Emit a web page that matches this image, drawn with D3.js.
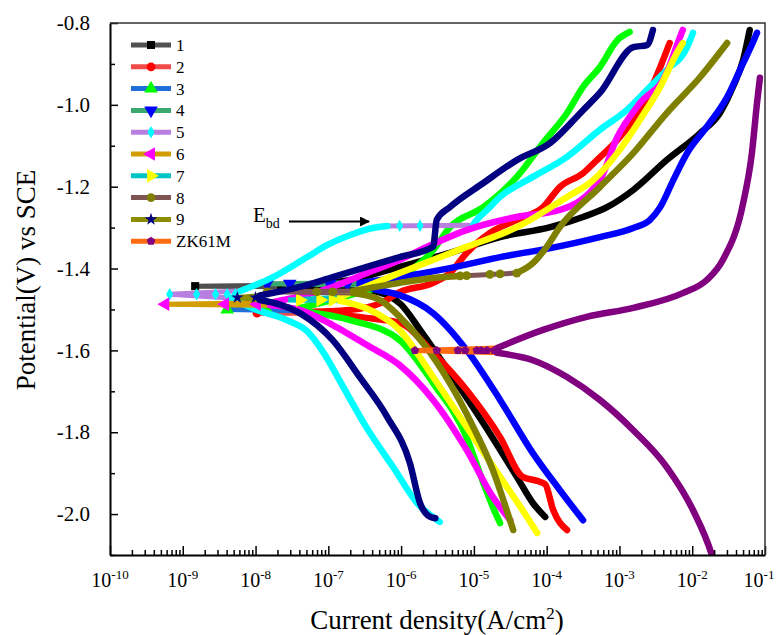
<!DOCTYPE html>
<html>
<head>
<meta charset="utf-8">
<script src="https://cdn.jsdelivr.net/npm/d3@7"></script>
<style>
body { margin:0; background:#fff; }
text { font-family:"Liberation Serif","Times New Roman",serif; fill:#000; }
</style>
</head>
<body>
<svg id="chart" width="776" height="635"></svg>
<script>

// ---- data: [log10(i / A cm-2), E / V vs SCE] ----
var names = ["1","2","3","4","5","6","7","8","9","ZK61M"];
var ecorr  = [-1.443,-1.509,-1.500,-1.437,-1.463,-1.487,-1.477,-1.457,-1.471,-1.600];
var dipLog = [-8.83,-7.98,-8.39,-7.84,-9.18,-9.24,-7.55,-7.87,-8.25,-5.81];
var dipMarks = [
  [-8.83,-7.65],
  [-7.98,-7.16],
  [-8.39,-7.85],
  [-7.84,-7.53,-6.98,-6.74],
  [-9.18,-8.81,-8.55,-8.39,-8.28],
  [-9.24,-8.42,-7.98],
  [-7.39,-7.11,-6.94],
  [-7.84,-7.16,-6.94],
  [-8.25,-8.0],
  [-5.81,-5.51,-5.22,-5.12,-4.96,-4.90,-4.82,-4.72]
];

var cath1 = [[-7.39,-1.445],[-6.7,-1.448],[-6.3,-1.458],[-6.0,-1.488],[-5.74,-1.55],[-5.33,-1.655],[-4.87,-1.778],[-4.41,-1.909],[-4.19,-1.973],[-4.02,-2.007]];
var anod1 = [[-7.39,-1.440],[-6.70,-1.428],[-6.02,-1.396],[-5.33,-1.362],[-4.64,-1.323],[-3.95,-1.299],[-3.50,-1.274],[-3.17,-1.250],[-2.81,-1.208],[-2.35,-1.135],[-1.89,-1.069],[-1.62,-1.020],[-1.44,-0.956],[-1.30,-0.890],[-1.21,-0.817]];

var cath2 = [[-7.39,-1.509],[-6.98,-1.511],[-6.5,-1.520],[-6.02,-1.533],[-5.56,-1.606],[-5.10,-1.697],[-4.64,-1.812],[-4.33,-1.909],[-4.13,-1.919],[-4.02,-1.927],[-3.91,-1.990],[-3.72,-2.039]];
var anod2 = [[-7.39,-1.506],[-6.70,-1.501],[-6.25,-1.482],[-6.02,-1.458],[-5.56,-1.435],[-5.33,-1.411],[-5.10,-1.362],[-4.78,-1.313],[-4.41,-1.281],[-4.05,-1.250],[-3.82,-1.201],[-3.50,-1.167],[-3.31,-1.135],[-3.03,-1.086],[-2.81,-1.037],[-2.62,-0.981],[-2.44,-0.908],[-2.31,-0.849]];

var cath3 = [[-7.40,-1.503],[-6.70,-1.526],[-6.02,-1.575],[-5.56,-1.680],[-5.10,-1.812],[-4.87,-1.924],[-4.68,-2.007],[-4.64,-2.022]];
var anod3 = [[-7.40,-1.497],[-6.70,-1.465],[-6.02,-1.423],[-5.56,-1.355],[-5.33,-1.299],[-4.87,-1.250],[-4.41,-1.176],[-4.05,-1.093],[-3.72,-1.020],[-3.50,-0.956],[-3.27,-0.908],[-3.03,-0.842],[-2.86,-0.822]];

var cath4 = [[-6.57,-1.440],[-6.33,-1.452],[-6.02,-1.465],[-5.56,-1.509],[-5.10,-1.599],[-4.64,-1.721],[-4.19,-1.851],[-3.82,-1.941],[-3.61,-1.990],[-3.50,-2.015]];
var anod4 = [[-6.57,-1.435],[-6.02,-1.421],[-5.33,-1.399],[-4.64,-1.372],[-3.95,-1.350],[-3.27,-1.323],[-2.81,-1.301],[-2.58,-1.281],[-2.44,-1.250],[-2.26,-1.184],[-2.07,-1.118],[-1.80,-1.054],[-1.52,-0.981],[-1.30,-0.898],[-1.17,-0.849],[-1.11,-0.824]];

var cath5 = [[-8.35,-1.472],[-7.98,-1.501],[-7.57,-1.526],[-7.30,-1.552],[-7.05,-1.610],[-6.84,-1.675],[-6.47,-1.790],[-6.11,-1.885],[-5.78,-1.973],[-5.47,-2.019]];
var anod5a = [[-8.21,-1.455],[-7.76,-1.421],[-7.29,-1.372],[-7.02,-1.343],[-6.70,-1.318],[-6.39,-1.301],[-6.19,-1.296]];
var anod5b = [[-5.01,-1.294],[-4.96,-1.281],[-4.82,-1.257],[-4.64,-1.225],[-4.19,-1.176],[-3.72,-1.127],[-3.27,-1.061],[-2.90,-1.013],[-2.58,-0.956],[-2.35,-0.915],[-2.07,-0.859],[-1.99,-0.824]];
var plateau5 = [-6.02,-5.74,-5.01];

var cath6 = [[-7.80,-1.490],[-7.39,-1.501],[-6.94,-1.538],[-6.47,-1.587],[-6.02,-1.636],[-5.56,-1.721],[-5.10,-1.843],[-4.74,-1.958],[-4.50,-2.015]];
var anod6 = [[-7.80,-1.484],[-7.62,-1.477],[-6.94,-1.445],[-6.47,-1.411],[-6.02,-1.379],[-5.74,-1.355],[-5.10,-1.306],[-4.41,-1.274],[-3.82,-1.257],[-3.27,-1.184],[-3.03,-1.079],[-2.72,-0.996],[-2.35,-0.922],[-2.21,-0.854],[-2.13,-0.817]];

var cath7 = [[-6.84,-1.479],[-6.43,-1.501],[-6.02,-1.550],[-5.56,-1.665],[-5.10,-1.787],[-4.64,-1.909],[-4.27,-2.007],[-4.13,-2.046]];
var anod7 = [[-6.84,-1.470],[-6.02,-1.411],[-5.10,-1.347],[-4.41,-1.299],[-3.72,-1.225],[-3.36,-1.184],[-3.03,-1.118],[-2.72,-1.037],[-2.44,-0.956],[-2.21,-0.873],[-2.13,-0.849]];

var cath8 = [[-6.66,-1.460],[-6.29,-1.477],[-6.02,-1.518],[-5.70,-1.582],[-5.33,-1.680],[-5.01,-1.787],[-4.74,-1.892],[-4.55,-1.990],[-4.46,-2.039]];
var anod8a = [[-6.66,-1.455],[-6.02,-1.435],[-5.56,-1.423],[-5.19,-1.418]];
var anod8b = [[-4.41,-1.411],[-4.19,-1.387],[-4.00,-1.347],[-3.82,-1.299],[-3.27,-1.201],[-2.81,-1.118],[-2.35,-1.020],[-1.89,-0.932],[-1.52,-0.849]];
var plateau8 = [-5.19,-5.10,-4.78,-4.64,-4.41];

var cath9 = [[-7.94,-1.477],[-7.39,-1.509],[-6.94,-1.575],[-6.57,-1.665],[-6.19,-1.763],[-5.88,-1.875],[-5.74,-1.973],[-5.60,-2.007],[-5.53,-2.010]];
var anod9 = [[-7.94,-1.466],[-7.39,-1.445],[-6.94,-1.421],[-6.47,-1.396],[-6.02,-1.372],[-5.56,-1.347],[-5.51,-1.281],[-5.33,-1.250],[-4.87,-1.191],[-4.41,-1.135],[-3.95,-1.093],[-3.50,-1.013],[-3.27,-0.971],[-2.81,-0.859],[-2.62,-0.854],[-2.54,-0.817]];

var cath10 = [[-4.68,-1.606],[-4.19,-1.624],[-3.72,-1.665],[-3.27,-1.721],[-2.81,-1.795],[-2.35,-1.885],[-1.99,-1.990],[-1.73,-2.100],[-1.68,-2.13]];
var anod10 = [[-4.68,-1.594],[-4.05,-1.550],[-3.45,-1.518],[-2.81,-1.496],[-2.13,-1.460],[-1.80,-1.428],[-1.58,-1.379],[-1.30,-1.240],[-1.18,-1.118],[-1.11,-0.996],[-1.07,-0.934]];

var cathodic = [cath1,cath2,cath3,cath4,cath5,cath6,cath7,cath8,cath9,cath10];
var anodic = [[anod1],[anod2],[anod3],[anod4],[anod5a,anod5b],[anod6],[anod7],[anod8a,anod8b],[anod9],[anod10]];
var plateauMarks = [[],[],[],[],[plateau5],[],[],[plateau8],[],[]];

var xTicks = [-10,-9,-8,-7,-6,-5,-4,-3,-2,-1];
var yTicks = [-2.0,-1.8,-1.6,-1.4,-1.2,-1.0,-0.8];
var yMinor = [-2.1,-1.9,-1.7,-1.5,-1.3,-1.1,-0.9];

// ---- styles ----
var lineColors = ["#505050","#f04a4a","#1f6fd8","#3aa86f","#b87fe0","#d29d00","#00c4c4","#7e5454","#8c8c00","#ff6b10"];
var markColors = ["#000000","#ff0000","#00ff00","#0000ff","#00ffff","#ff00ff","#ffff00","#808000","#000080","#800080"];
var shapes = ["square","circle","up","down","diamond","left","right","circle","star","pentagon"];

var svg = d3.select("#chart");
var pL = 110, pR = 765, pT = 23, pB = 555;

var x = d3.scaleLog().domain([1e-10, 1e-1]).range([pL, pR]);
var y = d3.scaleLinear().domain([-2.1, -0.8]).range([pB, pT]);

function px(d) { return x(Math.pow(10, d[0])); }
function py(d) { return y(d[1]); }

var smooth = d3.line().x(px).y(py).curve(d3.curveMonotoneX);
var straight = d3.line().x(px).y(py);

function symbolPath(shape, size) {
  if (shape == "pentagon") {
    var r = size / 2, pts = [];
    for (var k = 0; k < 5; k++) {
      var a = -Math.PI / 2 + k * 2 * Math.PI / 5;
      pts.push([r * Math.cos(a), r * Math.sin(a)]);
    }
    return "M" + pts.join("L") + "Z";
  }
  var area = size * size;
  var t = {square: d3.symbolSquare, circle: d3.symbolCircle, up: d3.symbolTriangle,
           down: d3.symbolTriangle, left: d3.symbolTriangle, right: d3.symbolTriangle,
           diamond: d3.symbolDiamond, star: d3.symbolStar}[shape];
  if (shape == "square") area = size * size * 0.8;
  if (shape == "circle") area = size * size * 0.75;
  if (shape == "star") area = size * size * 0.6;
  if (shape == "diamond") area = size * size * 0.55;
  return d3.symbol().type(t).size(area)();
}
var rot = {up: 0, down: 180, left: -90, right: 90};

function drawMark(g, i, cx, cy, size) {
  g.append("path")
    .attr("d", symbolPath(shapes[i], size))
    .attr("transform", "translate(" + cx + "," + cy + ") rotate(" + (rot[shapes[i]] || 0) + ")")
    .attr("fill", markColors[i]);
}

svg.append("defs").append("clipPath").attr("id", "plot")
  .append("rect").attr("x", pL).attr("y", pT).attr("width", pR - pL).attr("height", pB - pT);

var plot = svg.append("g").attr("clip-path", "url(#plot)");

names.forEach(function(name, i) {
  var g = plot.append("g");
  var cath = cathodic[i], pieces = anodic[i];
  var dipPt = [dipLog[i], ecorr[i]];

  // sparse part at Ecorr: only the connecting line shows
  g.append("path")
    .attr("d", straight([cath[0], dipPt, pieces[0][0]]))
    .attr("fill", "none").attr("stroke", lineColors[i]).attr("stroke-width", 5);
  for (var p = 1; p < pieces.length; p++) {
    var a = pieces[p - 1][pieces[p - 1].length - 1], b = pieces[p][0];
    g.append("path")
      .attr("d", straight([a, b]))
      .attr("fill", "none").attr("stroke", lineColors[i]).attr("stroke-width", 5);
  }

  // dense parts: symbols merge into a thick band
  [cath].concat(pieces).forEach(function(seg) {
    g.append("path")
      .attr("d", smooth(seg))
      .attr("fill", "none").attr("stroke", markColors[i])
      .attr("stroke-width", 6.5).attr("stroke-linejoin", "round").attr("stroke-linecap", "round");
  });

  dipMarks[i].forEach(function(v) {
    drawMark(g, i, x(Math.pow(10, v)), y(ecorr[i]), 9);
  });
  plateauMarks[i].forEach(function(list, k) {
    var a = pieces[k][pieces[k].length - 1], b = pieces[k + 1][0];
    list.forEach(function(v) {
      var f = (v - a[0]) / (b[0] - a[0]);
      drawMark(g, i, x(Math.pow(10, v)), y(a[1] + f * (b[1] - a[1])), 9);
    });
  });
});

// ---- axes ----
var majors = xTicks.map(function(e) { return Math.pow(10, e); });
var minors = [];
xTicks.forEach(function(e) { for (var m = 2; m < 10; m++) minors.push(m * Math.pow(10, e)); });
minors = minors.filter(function(v) { return v < 1e-1; });

svg.append("g").attr("transform", "translate(0," + pB + ")")
  .call(d3.axisBottom(x).tickValues(minors).tickSize(-5).tickSizeOuter(0).tickFormat(""))
  .call(function(g) { g.select(".domain").remove(); g.selectAll("line").attr("stroke-width", 1.5); });
svg.append("g").attr("transform", "translate(0," + pB + ")")
  .call(d3.axisBottom(x).tickValues(majors).tickSize(-9).tickSizeOuter(0).tickFormat(""))
  .call(function(g) { g.select(".domain").attr("stroke-width", 2); g.selectAll("line").attr("stroke-width", 1.5); });

xTicks.forEach(function(e) {
  var t = svg.append("text")
    .attr("x", x(Math.pow(10, e)) - (e == -1 ? 6 : 0)).attr("y", 587)
    .attr("text-anchor", "middle").style("font-size", "20px");
  t.append("tspan").text("10");
  t.append("tspan").attr("dy", -8).style("font-size", "13px").text(e);
});

svg.append("g").attr("transform", "translate(" + pL + ",0)")
  .call(d3.axisLeft(y).tickValues(yMinor).tickSize(-5).tickSizeOuter(0).tickFormat(""))
  .call(function(g) { g.select(".domain").remove(); g.selectAll("line").attr("stroke-width", 1.5); });
svg.append("g").attr("transform", "translate(" + pL + ",0)")
  .call(d3.axisLeft(y).tickValues(yTicks).tickSize(-8).tickSizeOuter(0).tickPadding(20)
        .tickFormat(function(d) { return d.toFixed(1); }))
  .call(function(g) {
    g.select(".domain").attr("stroke-width", 2);
    g.selectAll("line").attr("stroke-width", 1.5);
    g.selectAll("text").attr("font-family", null).attr("font-size", null).style("font-size", "21px");
  });

svg.append("path")
  .attr("d", "M" + pL + "," + pT + "H" + pR + "V" + pB)
  .attr("fill", "none").attr("stroke", "#333").attr("stroke-width", 1.5);

// ---- titles ----
var xt = svg.append("text").attr("x", 437).attr("y", 629).attr("text-anchor", "middle").style("font-size", "27px");
xt.append("tspan").text("Current density(A/cm");
xt.append("tspan").attr("dy", -10).style("font-size", "17px").text("2");
xt.append("tspan").attr("dy", 10).text(")");

svg.append("text")
  .attr("transform", "translate(35,280) rotate(-90)")
  .attr("text-anchor", "middle").style("font-size", "27px")
  .text("Potential(V) vs SCE");

// ---- E_bd annotation ----
var eb = svg.append("text").attr("x", 253).attr("y", 222).style("font-size", "21px");
eb.append("tspan").text("E");
eb.append("tspan").attr("dy", 6).style("font-size", "14px").text("bd");
svg.append("defs").append("marker").attr("id", "head")
  .attr("viewBox", "0 0 10 10").attr("refX", 9).attr("refY", 5)
  .attr("markerWidth", 6).attr("markerHeight", 5).attr("orient", "auto")
  .append("path").attr("d", "M0,0L10,5L0,10Z").attr("fill", "#000");
svg.append("line").attr("x1", 289).attr("y1", 221.5).attr("x2", 369).attr("y2", 221.5)
  .attr("stroke", "#000").attr("stroke-width", 2).attr("marker-end", "url(#head)");

// ---- legend ----
var lg = svg.append("g");
names.forEach(function(name, i) {
  var ly = 45 + i * 21.8;
  lg.append("line").attr("x1", 131).attr("x2", 171).attr("y1", ly).attr("y2", ly)
    .attr("stroke", lineColors[i]).attr("stroke-width", 5);
  drawMark(lg, i, 151, ly, 9);
  lg.append("text").attr("x", 176).attr("y", ly + 6).style("font-size", "17px").text(name);
});
</script>
</body>
</html>
